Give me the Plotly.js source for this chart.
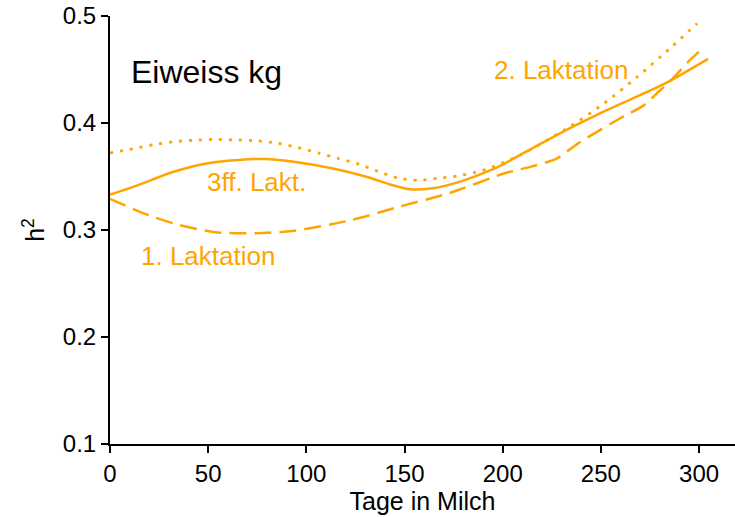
<!DOCTYPE html>
<html>
<head>
<meta charset="utf-8">
<script src="https://cdn.plot.ly/plotly-3.0.1.min.js"></script>
<style>
  html, body { margin: 0; padding: 0; background: #ffffff; }
  #chart { width: 735px; height: 517px; }
</style>
</head>
<body>
<div id="chart"></div>
<script>
// Heritability of protein yield (kg) over days in milk, by lactation

// 1. Laktation (dashed)
const daysLak1 = [0, 7.6, 19.4, 34.6, 53.5, 73.9, 92.7, 122.3, 147.7, 173, 201, 214, 227.7, 238.4, 261.3, 271.5, 278.7, 285, 295.5, 302];
const h2Lak1   = [0.329, 0.323, 0.314, 0.305, 0.298, 0.297, 0.299, 0.309, 0.322, 0.3346, 0.353, 0.359, 0.367, 0.381, 0.406, 0.416, 0.428, 0.4386, 0.459, 0.470];

// 2. Laktation (dotted)
const daysLak2 = [0, 11.9, 22.9, 33, 43.3, 53.5, 63.7, 73.9, 85.6, 95.8, 106, 116, 127, 137, 146.7, 157, 167, 177, 188.5, 193.6, 208.9, 232.8, 250.6, 268.5, 285.3, 299];
const h2Lak2   = [0.372, 0.376, 0.380, 0.3826, 0.384, 0.3847, 0.3841, 0.3835, 0.381, 0.377, 0.372, 0.367, 0.3614, 0.3545, 0.3485, 0.3464, 0.3483, 0.3505, 0.355, 0.358, 0.370, 0.395, 0.417, 0.443, 0.470, 0.493];

// 3. und folgende Laktationen (solid)
const daysLak3 = [0, 14.3, 31.6, 48.4, 65.2, 79, 92.7, 113.6, 131, 142.6, 152.8, 164.5, 178, 192, 198.7, 227.7, 253, 281.7, 304.6];
const h2Lak3   = [0.333, 0.342, 0.354, 0.362, 0.3654, 0.3664, 0.364, 0.3575, 0.3495, 0.3425, 0.338, 0.339, 0.345, 0.3545, 0.360, 0.389, 0.412, 0.436, 0.460];

const xTicks = [0, 50, 100, 150, 200, 250, 300];
const yTicks = [0.1, 0.2, 0.3, 0.4, 0.5];

const ORANGE = '#FFA500';
const FONT = 'Liberation Sans, Arial, sans-serif';

const traces = [
  { x: daysLak1, y: h2Lak1, mode: 'lines', name: '1. Laktation',
    line: { color: ORANGE, width: 2.5, dash: '17px,8px', shape: 'spline', smoothing: 0.7 } },
  { x: daysLak2, y: h2Lak2, mode: 'lines', name: '2. Laktation',
    line: { color: ORANGE, width: 2.8, dash: '3px,7px', shape: 'spline', smoothing: 0.7 } },
  { x: daysLak3, y: h2Lak3, mode: 'lines', name: '3ff. Lakt.',
    line: { color: ORANGE, width: 2.5, shape: 'spline', smoothing: 0.7 } }
];

const layout = {
  width: 735, height: 517,
  margin: { l: 110, r: 0, t: 16, b: 73 },
  paper_bgcolor: '#ffffff', plot_bgcolor: '#ffffff',
  showlegend: false,
  font: { family: FONT, color: '#000000', size: 24 },
  xaxis: {
    range: [0, 318.3], tickvals: xTicks, ticktext: xTicks.map(String),
    showline: true, linecolor: '#000000', linewidth: 2,
    ticks: 'outside', ticklen: 7, tickwidth: 2, tickcolor: '#000000',
    showgrid: false, zeroline: false,
    tickfont: { family: FONT, size: 24, color: '#000000' },
    title: { text: 'Tage in Milch', font: { family: FONT, size: 25, color: '#000000' }, standoff: 2 }
  },
  yaxis: {
    range: [0.1, 0.5], tickvals: yTicks, ticktext: yTicks.map(v => v.toFixed(1)),
    showline: true, linecolor: '#000000', linewidth: 2,
    ticks: 'outside', ticklen: 7, tickwidth: 2, tickcolor: '#000000',
    showgrid: false, zeroline: false,
    tickfont: { family: FONT, size: 24, color: '#000000' },
    title: { text: 'h<sup>2</sup>', font: { family: FONT, size: 25, color: '#000000' }, standoff: 11 }
  },
  annotations: [
    { x: 48.9, y: 0.4481, xref: 'x', yref: 'y', text: 'Eiweiss kg', showarrow: false,
      xanchor: 'center', yanchor: 'middle', font: { family: FONT, size: 32, color: '#000000' } },
    { x: 229.5, y: 0.4495, xref: 'x', yref: 'y', text: '2. Laktation', showarrow: false,
      xanchor: 'center', yanchor: 'middle', font: { family: FONT, size: 26, color: ORANGE } },
    { x: 74.6, y: 0.345, xref: 'x', yref: 'y', text: '3ff. Lakt.', showarrow: false,
      xanchor: 'center', yanchor: 'middle', font: { family: FONT, size: 26, color: ORANGE } },
    { x: 49.9, y: 0.2755, xref: 'x', yref: 'y', text: '1. Laktation', showarrow: false,
      xanchor: 'center', yanchor: 'middle', font: { family: FONT, size: 26, color: ORANGE } }
  ]
};

Plotly.newPlot('chart', traces, layout, { displayModeBar: false, staticPlot: true });
</script>
</body>
</html>
